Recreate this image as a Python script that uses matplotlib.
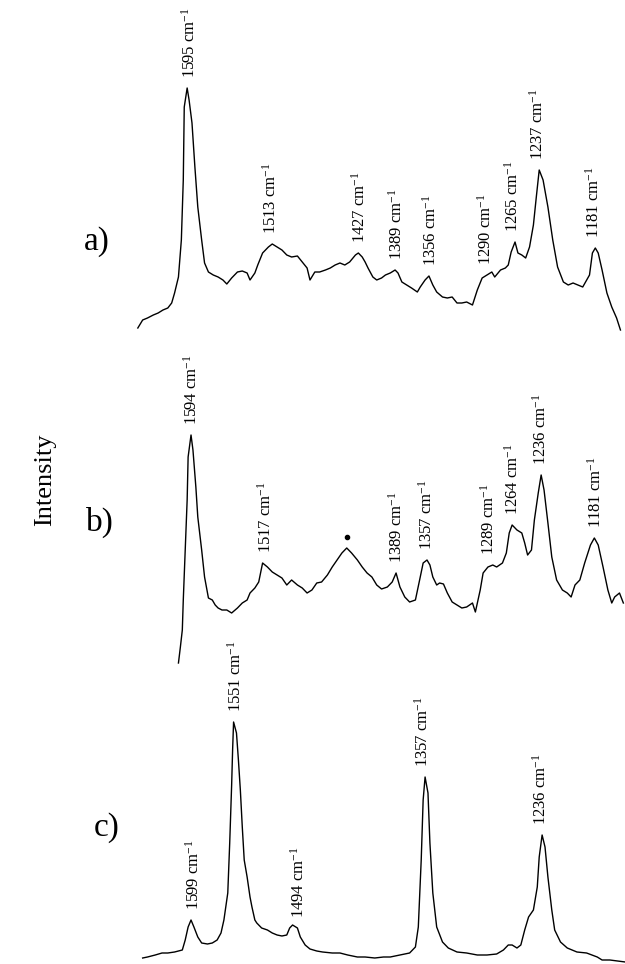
import numpy as np
import matplotlib
matplotlib.use('Agg')
import matplotlib.pyplot as plt

plt.rcParams['font.family'] = ['Liberation Serif', 'DejaVu Serif']
plt.rcParams['mathtext.fontset'] = 'custom'
plt.rcParams['mathtext.rm'] = 'Liberation Serif'
plt.rcParams['mathtext.it'] = 'Liberation Serif:italic'

# spectrum a) - wavenumber (cm-1) and intensity (arb. units)
wn_a = [1654, 1649, 1644, 1638, 1633, 1628, 1623, 1619, 1616, 1612, 1609, 1607,
        1606, 1603, 1601, 1598, 1595, 1592, 1588, 1585, 1581, 1576, 1571, 1566,
        1562, 1557, 1551, 1546, 1541, 1538, 1533, 1530, 1525, 1519, 1515, 1510,
        1505, 1500, 1495, 1489, 1484, 1479, 1476, 1471, 1466, 1460, 1455, 1450,
        1445, 1440, 1435, 1429, 1426, 1422, 1419, 1416, 1411, 1407, 1402, 1398,
        1393, 1388, 1385, 1381, 1376, 1371, 1365, 1362, 1357, 1353, 1349, 1345,
        1339, 1334, 1329, 1324, 1319, 1314, 1308, 1303, 1298, 1293, 1288, 1285,
        1279, 1274, 1271, 1268, 1264, 1261, 1257, 1253, 1249, 1245, 1242, 1239,
        1235, 1230, 1225, 1220, 1214, 1209, 1204, 1199, 1194, 1187, 1184, 1181,
        1178, 1174, 1169, 1164, 1159, 1155]
int_a = [12, 20, 22, 25, 27, 30, 32, 37, 47, 63, 100, 160,
         233, 252, 240, 217, 173, 133, 100, 77, 68, 65, 63, 60,
         56, 62, 68, 69, 67, 60, 67, 75, 87, 93, 96, 93,
         90, 85, 83, 84, 78, 72, 60, 68, 68, 70, 72, 75,
         77, 75, 78, 85, 87, 83, 78, 72, 63, 60, 62, 65,
         67, 70, 67, 58, 55, 52, 48, 53, 60, 64, 55, 48,
         43, 42, 43, 37, 37, 38, 35, 50, 62, 65, 68, 63,
         70, 72, 75, 88, 98, 87, 85, 82, 93, 115, 143, 170,
         160, 133, 100, 73, 58, 55, 57, 55, 53, 65, 87, 92,
         87, 70, 47, 33, 22, 10]
labels_a = [1595, 1513, 1427, 1389, 1356, 1290, 1265, 1237, 1181]
label_pos_a = [1600, 1517, 1425, 1386, 1351, 1294, 1266, 1240, 1183]

# spectrum b)
wn_b = [1612, 1610, 1608, 1607, 1605, 1603, 1602, 1599, 1597, 1594, 1592, 1588,
        1585, 1581, 1577, 1574, 1571, 1567, 1562, 1557, 1551, 1546, 1541, 1538,
        1533, 1529, 1525, 1520, 1515, 1510, 1505, 1500, 1495, 1489, 1484, 1479,
        1474, 1469, 1464, 1458, 1453, 1448, 1443, 1438, 1433, 1427, 1422, 1417,
        1412, 1407, 1402, 1396, 1391, 1387, 1383, 1378, 1373, 1367, 1362, 1359,
        1355, 1352, 1349, 1345, 1342, 1338, 1334, 1329, 1324, 1319, 1314, 1308,
        1305, 1300, 1297, 1292, 1287, 1283, 1277, 1273, 1270, 1267, 1262, 1257,
        1254, 1251, 1247, 1244, 1240, 1237, 1234, 1230, 1226, 1221, 1215, 1210,
        1206, 1202, 1197, 1192, 1186, 1182, 1178, 1173, 1168, 1164, 1161, 1156,
        1152]
int_b = [2, 18, 35, 65, 115, 165, 208, 230, 215, 178, 148, 115,
         88, 67, 65, 60, 57, 55, 55, 52, 57, 62, 65, 72,
         77, 83, 102, 98, 93, 90, 87, 80, 85, 80, 77, 72,
         75, 82, 83, 90, 98, 105, 112, 117, 112, 105, 98, 92,
         88, 80, 76, 78, 83, 92, 78, 68, 63, 65, 88, 102,
         105, 100, 88, 80, 82, 81, 72, 63, 60, 57, 58, 62,
         53, 75, 92, 98, 100, 98, 102, 112, 132, 140, 135, 132,
         122, 110, 115, 145, 172, 190, 175, 142, 108, 85, 75, 72,
         68, 80, 85, 102, 120, 127, 120, 98, 75, 62, 68, 72,
         62]
labels_b = [1594, 1517, 1389, 1357, 1289, 1264, 1236, 1181]
label_pos_b = [1598, 1522, 1386, 1355, 1291, 1266, 1237, 1181]
marked_b = 1438  # band marked with a dot

# spectrum c)
wn_c = [1649, 1644, 1636, 1629, 1623, 1616, 1608, 1605, 1602, 1599, 1596, 1592,
        1588, 1582, 1577, 1572, 1568, 1565, 1561, 1559, 1557, 1556, 1555, 1552,
        1550, 1548, 1546, 1544, 1541, 1538, 1536, 1533, 1531, 1526, 1520, 1515,
        1510, 1505, 1500, 1497, 1494, 1489, 1486, 1481, 1476, 1469, 1463, 1453,
        1445, 1437, 1427, 1419, 1409, 1400, 1393, 1383, 1373, 1367, 1364, 1361,
        1359, 1357, 1354, 1352, 1349, 1345, 1339, 1333, 1324, 1314, 1303, 1293,
        1283, 1276, 1271, 1267, 1262, 1258, 1254, 1250, 1245, 1241, 1239, 1236,
        1233, 1230, 1226, 1223, 1217, 1210, 1200, 1190, 1179, 1174, 1166, 1150]
int_c = [7, 8, 10, 12, 12, 13, 15, 25, 38, 45, 38, 28,
         22, 21, 22, 25, 32, 45, 72, 122, 180, 215, 243, 232,
         205, 175, 138, 105, 88, 68, 58, 45, 42, 37, 35, 32,
         30, 29, 30, 37, 40, 37, 28, 20, 16, 14, 13, 12,
         12, 10, 8, 8, 7, 8, 8, 10, 12, 18, 38, 105,
         165, 188, 172, 122, 72, 38, 23, 17, 13, 12, 10, 10,
         11, 15, 20, 20, 17, 20, 35, 48, 55, 78, 108, 130,
         118, 88, 55, 35, 23, 17, 13, 12, 8, 5, 5, 3]
labels_c = [1599, 1551, 1494, 1357, 1236]
label_pos_c = [1596, 1553, 1488, 1359, 1237]

fig = plt.figure(figsize=(6.25, 9.64), dpi=100)
ax = fig.add_axes([0, 0, 1, 1])
ax.set_xlim(1796.5, 1150.3)
ax.set_ylim(0, 964)
ax.axis('off')

panels = [
    (wn_a, int_a, labels_a, label_pos_a, 624, 'a)', (97, 242)),
    (wn_b, int_b, labels_b, label_pos_b, 299, 'b)', (100, 522)),
    (wn_c, int_c, labels_c, label_pos_c, -1, 'c)', (107, 828)),
]

for wn, inten, labels, label_pos, offset, tag, (tx, ty) in panels:
    wn = np.array(wn)
    inten = np.array(inten)
    ax.plot(wn, inten + offset, color='black', lw=1.0)
    for lab, pos in zip(labels, label_pos):
        win = (wn > pos - 6) & (wn < pos + 6)
        top = inten[win].max()
        ax.text(pos, offset + top + 10, f'{lab} cm$^{{-1}}$', rotation=90,
                ha='center', va='bottom', fontsize=12)
    fig.text(tx / 625, 1 - ty / 964, tag, fontsize=24, ha='center', va='center')

# dot over the unassigned band in b)
wb = np.array(wn_b)
ib = np.array(int_b)
dot_y = ib[np.abs(wb - marked_b) < 4].max() + 11 + 299
ax.plot([marked_b], [dot_y], 'o', color='black', markersize=3)

fig.text(45 / 625, 1 - 480 / 964, 'Intensity', rotation=90, fontsize=19,
         ha='center', va='center')

plt.savefig('out.png', dpi=100)
plt.close()
